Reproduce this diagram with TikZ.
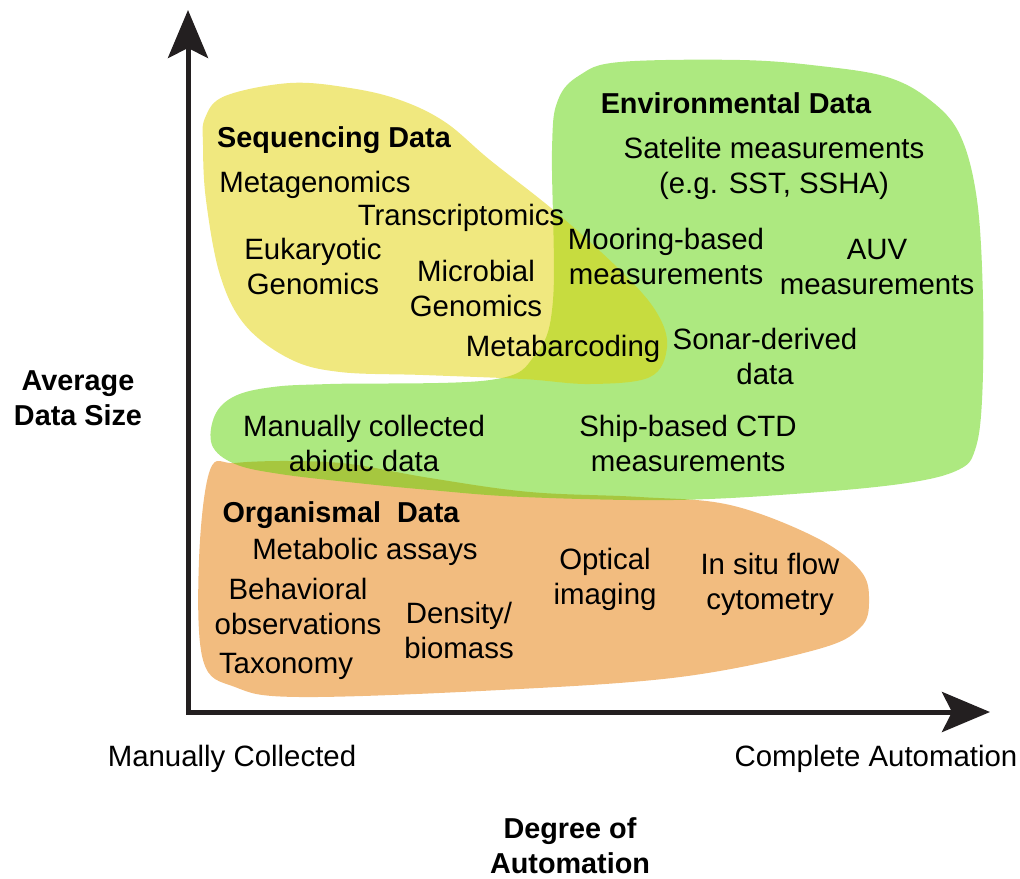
\documentclass[tikz,border=0pt]{standalone}
\usepackage{fontspec}
\setmainfont{Liberation Sans}
\usetikzlibrary{positioning, arrows.meta}
\definecolor{seqyellow}{RGB}{225,209,0}
\definecolor{envgreen}{RGB}{91,211,1}
\definecolor{orgorange}{RGB}{229,121,0}
\definecolor{axisblack}{RGB}{35,31,32}

\begin{document}
\begin{tikzpicture}
[x=0.5pt, y=-0.5pt,
 txt/.style={font=\fontsize{14.7}{17.5}\selectfont, align=center, inner sep=0pt, yshift=-1.6pt},
 hdr/.style={txt, font=\fontsize{14.4}{17.5}\selectfont\bfseries},
 blob/.style={fill opacity=0.5},
 axis/.style={line width=2.5pt, draw=axisblack, line join=miter,
   arrows={Stealth[length=24pt, width=20pt, inset=5pt]-Stealth[length=24pt, width=20pt, inset=5pt]}}]

\useasboundingbox (0,0) rectangle (1020,878);

% the three data regions
\fill[blob, orgorange] plot[smooth cycle, tension=0.6] coordinates {(210,470) (235,463) (290,461) (350,464) (430,478) (530,492) (640,497) (730,505) (815,537) (860,570) (869,600) (860,628) (815,650) (680,677) (500,690) (300,697) (235,687) (203,660) (199,560)};
\fill[blob, envgreen] plot[smooth cycle, tension=0.6] coordinates {(553,300) (552,150) (558,100) (580,75) (620,62) (740,60) (820,66) (887,77) (930,100) (960,135) (977,200) (983,300) (982,400) (975,450) (958,470) (907,483) (807,493) (673,500) (523,497) (430,490) (357,483) (280,474) (235,464) (212,445) (215,415) (235,396) (273,387) (330,384) (490,380) (535,355)};
\fill[blob, seqyellow] plot[smooth cycle, tension=0.6] coordinates {(205,118) (225,96) (290,83) (350,88) (400,100) (445,122) (490,160) (557,213) (623,273) (657,313) (667,347) (650,377) (590,384) (523,379) (423,375) (340,372) (290,359) (245,325) (220,275) (206,200) (203,145)};

% sequencing data
\node[hdr] (seqhdr) at (334,137) {Sequencing Data};
\node[txt] (metagen) at (315,182) {Metagenomics};
\node[txt] (transcr) at (461,215) {Transcriptomics};
\node[txt] (eukgen) at (313,263) {Eukaryotic\\Genomics};
\node[txt] (micgen) at (476,285) {Microbial\\Genomics};
\node[txt] (metabar) at (563,346) {Metabarcoding};

% environmental data
\node[hdr] (envhdr) at (736,100) {Environmental Data};
\node[txt] (satel) at (774,165) {Satelite measurements\\(e.g. SST, SSHA)};
\node[txt] (mooring) at (666,253) {Mooring-based\\measurements};
\node[txt] (auv) at (877,264) {AUV\\measurements};
\node[txt] (sonar) at (765,353) {Sonar-derived\\data};
\node[txt] (abiotic) at (364,440) {Manually collected\\abiotic data};
\node[txt] (ctd) at (688,440) {Ship-based CTD\\measurements};

% organismal data
\node[hdr] (orghdr) at (341,512) {Organismal\ \ Data};
\node[txt] (metabol) at (365,549) {Metabolic assays};
\node[txt] (behav) at (298,603) {Behavioral\\observations};
\node[txt] (taxon) at (286,663) {Taxonomy};
\node[txt] (density) at (459,627) {Density/\\biomass};
\node[txt] (optical) at (605,576) {Optical\\imaging};
\node[txt] (flowcyt) at (770,581) {In situ flow\\cytometry};

% axes and their labels
\coordinate (origin) at (188,712);
\coordinate (ytip) at (188,10);
\coordinate (xtip) at (990,712);
\draw[axis] (ytip) -- (origin) -- (xtip);

\node[hdr] (ylabel) at (78,395) {Average\\Data Size};
\node[txt] (xmin) at (232,756) {Manually Collected};
\node[txt] (xmax) at (876,756) {Complete Automation};
\node[hdr] (xlabel) at (570,842) {Degree of\\Automation};

\end{tikzpicture}
\end{document}
